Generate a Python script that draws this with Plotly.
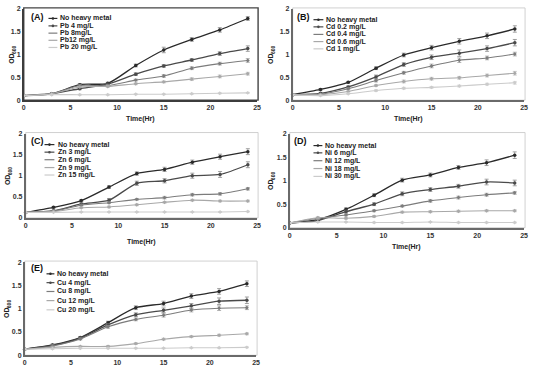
import plotly.graph_objects as go

W, H = 535, 372
time_hr = [0, 3, 6, 9, 12, 15, 18, 21, 24]

# ---------------- Panel A : Pb ----------------
a_names = ["No heavy metal", "Pb 4 mg/L", "Pb 8mg/L", "Pb12 mg/L", "Pb 20 mg/L"]
a_nhm  = [0.10, 0.14, 0.34, 0.37, 0.76, 1.10, 1.33, 1.54, 1.79]
a_s1   = [0.10, 0.14, 0.25, 0.35, 0.57, 0.75, 0.88, 1.02, 1.13]
a_s2   = [0.10, 0.14, 0.32, 0.32, 0.44, 0.53, 0.70, 0.80, 0.87]
a_s3   = [0.10, 0.14, 0.29, 0.30, 0.36, 0.40, 0.46, 0.52, 0.58]
a_s4   = [0.10, 0.12, 0.12, 0.12, 0.13, 0.13, 0.14, 0.15, 0.16]
a_err  = [[0, 0.01, 0.02, 0.02, 0.03, 0.06, 0.04, 0.05, 0.04],
          [0, 0.01, 0.02, 0.02, 0.03, 0.03, 0.03, 0.04, 0.06],
          [0, 0.01, 0.02, 0.02, 0.02, 0.03, 0.03, 0.03, 0.04],
          [0, 0.01, 0.01, 0.02, 0.02, 0.02, 0.03, 0.03, 0.03],
          [0, 0.00, 0.01, 0.01, 0.01, 0.01, 0.01, 0.01, 0.01]]

# ---------------- Panel B : Cd ----------------
b_names = ["No heavy metal", "Cd 0.2 mg/L", "Cd 0.4 mg/L", "Cd 0.6 mg/L", "Cd 1 mg/L"]
b_nhm  = [0.12, 0.235, 0.39, 0.70, 0.99, 1.15, 1.29, 1.41, 1.56]
b_s1   = [0.12, 0.15, 0.29, 0.51, 0.78, 0.94, 1.03, 1.13, 1.26]
b_s2   = [0.12, 0.13, 0.25, 0.43, 0.60, 0.75, 0.875, 0.925, 1.01]
b_s3   = [0.12, 0.12, 0.19, 0.32, 0.41, 0.47, 0.49, 0.54, 0.59]
b_s4   = [0.12, 0.10, 0.14, 0.21, 0.26, 0.28, 0.31, 0.35, 0.38]
b_err  = [[0, 0.02, 0.02, 0.03, 0.04, 0.05, 0.06, 0.06, 0.07],
          [0, 0.02, 0.02, 0.04, 0.04, 0.05, 0.07, 0.06, 0.07],
          [0, 0.01, 0.02, 0.03, 0.03, 0.04, 0.05, 0.04, 0.04],
          [0, 0.01, 0.01, 0.02, 0.03, 0.03, 0.03, 0.03, 0.04],
          [0, 0.01, 0.01, 0.02, 0.02, 0.02, 0.02, 0.02, 0.03]]

# ---------------- Panel C : Zn ----------------
c_names = ["No heavy metal", "Zn 3 mg/L", "Zn 6 mg/L", "Zn 9 mg/L", "Zn 15 mg/L"]
c_nhm  = [0.13, 0.25, 0.41, 0.73, 1.05, 1.15, 1.32, 1.45, 1.57]
c_s1   = [0.13, 0.17, 0.33, 0.42, 0.82, 0.88, 1.00, 1.03, 1.26]
c_s2   = [0.13, 0.16, 0.30, 0.36, 0.44, 0.48, 0.55, 0.57, 0.69]
c_s3   = [0.13, 0.15, 0.24, 0.26, 0.31, 0.37, 0.42, 0.40, 0.40]
c_s4   = [0.13, 0.13, 0.14, 0.14, 0.14, 0.14, 0.14, 0.14, 0.15]
c_err  = [[0, 0.02, 0.02, 0.03, 0.04, 0.05, 0.05, 0.06, 0.07],
          [0, 0.01, 0.03, 0.04, 0.05, 0.05, 0.06, 0.07, 0.07],
          [0, 0.01, 0.02, 0.02, 0.02, 0.03, 0.03, 0.03, 0.03],
          [0, 0.01, 0.01, 0.02, 0.02, 0.02, 0.02, 0.02, 0.02],
          [0, 0.00, 0.01, 0.01, 0.01, 0.01, 0.01, 0.01, 0.01]]

# ---------------- Panel D : Ni ----------------
d_names = ["No heavy metal", "Ni 6 mg/L", "Ni 12 mg/L", "Ni 18 mg/L", "Ni 30 mg/L"]
d_nhm  = [0.10, 0.17, 0.39, 0.69, 1.01, 1.12, 1.28, 1.38, 1.54]
d_s1   = [0.10, 0.15, 0.34, 0.50, 0.72, 0.81, 0.88, 0.97, 0.95]
d_s2   = [0.10, 0.20, 0.27, 0.36, 0.46, 0.57, 0.64, 0.70, 0.74]
d_s3   = [0.10, 0.21, 0.20, 0.24, 0.33, 0.34, 0.35, 0.36, 0.36]
d_s4   = [0.10, 0.12, 0.12, 0.11, 0.11, 0.12, 0.11, 0.11, 0.11]
d_err  = [[0, 0.02, 0.03, 0.03, 0.04, 0.04, 0.04, 0.06, 0.07],
          [0, 0.02, 0.03, 0.03, 0.04, 0.04, 0.04, 0.06, 0.06],
          [0, 0.02, 0.02, 0.02, 0.02, 0.03, 0.03, 0.03, 0.03],
          [0, 0.02, 0.02, 0.02, 0.02, 0.02, 0.02, 0.02, 0.02],
          [0, 0.01, 0.01, 0.01, 0.01, 0.01, 0.01, 0.01, 0.01]]

# ---------------- Panel E : Cu ----------------
e_names = ["No heavy metal", "Cu 4 mg/L", "Cu 8 mg/L", "Cu 12 mg/L", "Cu 20 mg/L"]
e_nhm  = [0.13, 0.22, 0.38, 0.70, 1.02, 1.11, 1.27, 1.37, 1.535]
e_s1   = [0.13, 0.21, 0.37, 0.65, 0.87, 0.965, 1.06, 1.16, 1.18]
e_s2   = [0.13, 0.20, 0.35, 0.61, 0.77, 0.86, 0.97, 1.01, 1.02]
e_s3   = [0.13, 0.17, 0.19, 0.19, 0.25, 0.345, 0.40, 0.43, 0.46]
e_s4   = [0.13, 0.14, 0.15, 0.15, 0.15, 0.15, 0.16, 0.16, 0.17]
e_err  = [[0, 0.02, 0.02, 0.03, 0.04, 0.05, 0.05, 0.06, 0.06],
          [0, 0.02, 0.02, 0.03, 0.04, 0.05, 0.05, 0.07, 0.07],
          [0, 0.02, 0.02, 0.03, 0.03, 0.04, 0.04, 0.05, 0.04],
          [0, 0.01, 0.01, 0.02, 0.02, 0.02, 0.02, 0.02, 0.02],
          [0, 0.01, 0.01, 0.01, 0.01, 0.01, 0.01, 0.01, 0.01]]

x_ticks = [0, 5, 10, 15, 20, 25]
y_ticks = [0, 0.5, 1, 1.5, 2]
y_ticklabels = ["0", "0.5", "1", "1.5", "2"]

colors = ["#2a2a2a", "#4a4a4a", "#7c7c7c", "#a8a8a8", "#cbcbcb"]
err_colors = ["#8a8a8a", "#8a8a8a", "#a0a0a0", "#bdbdbd", "#d6d6d6"]
symbols = ["circle", "circle", "diamond", "diamond", "diamond"]

panels = [
    dict(tag="(A)", names=a_names, series=[a_nhm, a_s1, a_s2, a_s3, a_s4], errs=a_err,
         px=(22, 258), py=(98, 5), ytx=10, xty=117, lab=(27, 13), leg=(47, 56, 57, [14.7, 22.3, 29.7, 37, 44.3]),
         dark=True),
    dict(tag="(B)", names=b_names, series=[b_nhm, b_s1, b_s2, b_s3, b_s4], errs=b_err,
         px=(294, 528), py=(98, 5), ytx=272, xty=117, lab=(296, 13), leg=(315, 325, 326, [16, 23.3, 31, 38.3, 45.7]),
         dark=False),
    dict(tag="(C)", names=c_names, series=[c_nhm, c_s1, c_s2, c_s3, c_s4], errs=c_err,
         px=(24, 258), py=(218, 132), ytx=6, xty=243, lab=(27, 140), leg=(43, 53, 55, [143.3, 151, 158.7, 166.7, 174.3]),
         dark=False),
    dict(tag="(D)", names=d_names, series=[d_nhm, d_s1, d_s2, d_s3, d_s4], errs=d_err,
         px=(291, 528), py=(228, 132), ytx=272, xty=248, lab=(293, 140), leg=(315, 324, 325, [144.3, 151.7, 159.7, 167.7, 175.7]),
         dark=False),
    dict(tag="(E)", names=e_names, series=[e_nhm, e_s1, e_s2, e_s3, e_s4], errs=e_err,
         px=(23, 257), py=(358, 263), ytx=5, xty=None, lab=(27, 269), leg=(45, 53, 54, [275, 284, 293, 302.3, 311.7]),
         dark=False),
]

def fx(p):
    return p / W

def fy(p):
    return 1 - p / H

fig = go.Figure()
annotations = []
shapes = []
layout_axes = {}

FAM = "Liberation Sans, Arial"
tick_font = dict(family=FAM, size=7, color="#333333", weight="bold")
leg_font = dict(family=FAM, size=7, color="#222222", weight="bold")

for i, p in enumerate(panels):
    n = i + 1
    xa = "x" if n == 1 else f"x{n}"
    ya = "y" if n == 1 else f"y{n}"
    xkey = "xaxis" if n == 1 else f"xaxis{n}"
    ykey = "yaxis" if n == 1 else f"yaxis{n}"

    for k, (name, vals) in enumerate(zip(p["names"], p["series"])):
        fig.add_trace(go.Scatter(
            x=time_hr, y=vals, name=name, xaxis=xa, yaxis=ya, mode="lines+markers",
            line=dict(color=colors[k], width=1.3 if k < 2 else 1.1, shape="spline", smoothing=0.7),
            marker=dict(symbol=symbols[k], size=3.5 if k < 2 else 3, color=colors[k]),
            error_y=dict(type="data", array=p["errs"][k], visible=True, color=err_colors[k],
                         thickness=0.8, width=2),
            showlegend=False, cliponaxis=False,
        ))

    axis_col = "#3c3c3c" if p["dark"] else "#6a6a6a"
    layout_axes[xkey] = dict(
        domain=[fx(p["px"][0]), fx(p["px"][1])], range=[0, 25], anchor=ya,
        tickvals=x_ticks, ticktext=[str(v) for v in x_ticks], tickfont=tick_font,
        showgrid=False, zeroline=False, showline=True, linecolor=axis_col,
        linewidth=1.6, ticks="", ticklen=0,
    )
    layout_axes[ykey] = dict(
        domain=[fy(p["py"][0]), fy(p["py"][1])], range=[0, 2], anchor=xa,
        tickvals=y_ticks, ticktext=y_ticklabels, tickfont=tick_font,
        showgrid=False, zeroline=False, showline=True, linecolor=axis_col,
        linewidth=1.6, ticks="", ticklen=0,
    )

    shapes.append(dict(type="rect", xref="paper", yref="paper",
                       x0=fx(p["px"][0]), x1=fx(p["px"][1] + 1), y0=fy(p["py"][0]), y1=fy(p["py"][1] - 1),
                       line=dict(color="#444444" if p["dark"] else "#c4c4c4",
                                 width=1.4 if p["dark"] else 0.8),
                       layer="below"))

    annotations.append(dict(text=p["tag"], xref="paper", yref="paper",
                            x=fx(p["lab"][0]), y=fy(p["lab"][1]), xanchor="left", yanchor="middle",
                            showarrow=False, font=dict(family=FAM, size=9, color="#111111", weight="bold")))

    lx0, lx1, ltx, rows = p["leg"]
    for k, (name, ry) in enumerate(zip(p["names"], rows)):
        shapes.append(dict(type="line", xref="paper", yref="paper",
                           x0=fx(lx0), x1=fx(lx1), y0=fy(ry), y1=fy(ry),
                           line=dict(color=colors[k], width=1.2)))
        if k < 2:
            cx = (lx0 + lx1) / 2
            shapes.append(dict(type="circle", xref="paper", yref="paper",
                               x0=fx(cx - 1.3), x1=fx(cx + 1.3), y0=fy(ry + 1.3), y1=fy(ry - 1.3),
                               fillcolor=colors[k], line=dict(width=0)))
        annotations.append(dict(text=name, xref="paper", yref="paper",
                                x=fx(ltx), y=fy(ry), xanchor="left", yanchor="middle",
                                showarrow=False, font=leg_font))

    # y axis title "OD" with subscript "600", drawn as two rotated texts
    yc = (p["py"][0] + p["py"][1]) / 2
    annotations.append(dict(text="OD", xref="paper", yref="paper",
                            x=fx(p["ytx"] - 0.5), y=fy(yc + 4), xanchor="center", yanchor="middle",
                            textangle=-90, showarrow=False,
                            font=dict(family=FAM, size=7, color="#222222", weight="bold")))
    annotations.append(dict(text="600", xref="paper", yref="paper",
                            x=fx(p["ytx"] + 1.5), y=fy(yc - 5), xanchor="center", yanchor="middle",
                            textangle=-90, showarrow=False,
                            font=dict(family=FAM, size=5, color="#222222", weight="bold")))
    if p["xty"] is not None:
        xc = (p["px"][0] + p["px"][1]) / 2
        annotations.append(dict(text="Time(Hr)", xref="paper", yref="paper",
                                x=fx(xc), y=fy(p["xty"]), xanchor="center", yanchor="middle",
                                showarrow=False,
                                font=dict(family=FAM, size=7, color="#222222", weight="bold")))

fig.update_layout(
    width=W, height=H, margin=dict(l=0, r=0, t=0, b=0),
    paper_bgcolor="white", plot_bgcolor="white",
    showlegend=False, annotations=annotations, shapes=shapes,
    **layout_axes,
)

fig.write_html("out.html")
